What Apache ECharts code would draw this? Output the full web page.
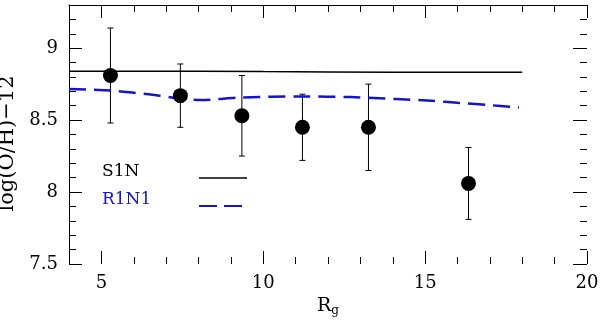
<!DOCTYPE html>
<html>
<head>
<meta charset="utf-8">
<script src="https://cdn.jsdelivr.net/npm/echarts@6/dist/echarts.min.js"></script>
<style>
  html, body { margin: 0; padding: 0; background: #fff; }
  #chart { width: 600px; height: 323px; }
</style>
</head>
<body>
<div id="chart"></div>
<script>
// observed points: radius, log(O/H)-12, error bar low / high
const obsR = [5.28, 7.44, 9.34, 11.21, 13.25, 16.34];
const obsOH = [8.81, 8.67, 8.53, 8.45, 8.45, 8.06];
const obsLow = [8.48, 8.45, 8.25, 8.22, 8.15, 7.81];
const obsHigh = [9.14, 8.89, 8.81, 8.68, 8.75, 8.31];

// model S1N (solid black)
const s1nR = [4, 6, 8, 10, 12, 14, 16, 18];
const s1nOH = [8.84, 8.84, 8.84, 8.837, 8.835, 8.833, 8.832, 8.832];

// model R1N1 (blue dashed)
const r1n1R = [4, 5.3, 6, 6.8, 7.4, 8.1, 9.3, 11.2, 12.7, 14.1, 15.2, 16.0, 16.9, 17.9];
const r1n1OH = [8.717, 8.705, 8.69, 8.67, 8.65, 8.64, 8.657, 8.664, 8.66, 8.646, 8.634, 8.62, 8.606, 8.587];

// ticks
const xMajor = [5, 10, 15, 20];
const xMinor = [4, 6, 7, 8, 9, 11, 12, 13, 14, 16, 17, 18, 19];
const yMajor = [7.5, 8, 8.5, 9];
const yMinor = [7.6, 7.7, 7.8, 7.9, 8.1, 8.2, 8.3, 8.4, 8.6, 8.7, 8.8, 8.9, 9.1, 9.2];

const FONT = 'DejaVu Serif';
const xMin = 4, xMax = 20, yMin = 7.5, yMax = 9.3;

function xAx(position, ticks, len, labels, extra) {
  return Object.assign({
    type: 'value', position: position, min: xMin, max: xMax,
    axisLine: { show: false, onZero: false },
    axisTick: { inside: true, length: len, customValues: ticks, lineStyle: { color: '#000', width: 1 } },
    axisLabel: labels ? { customValues: labels, margin: 10, fontFamily: FONT, fontSize: 18, color: '#000' } : { show: false },
    splitLine: { show: false }
  }, extra || {});
}
function yAx(position, ticks, len, labels, extra) {
  return Object.assign({
    type: 'value', position: position, min: yMin, max: yMax,
    axisLine: { show: false, onZero: false },
    axisTick: { inside: true, length: len, customValues: ticks, lineStyle: { color: '#000', width: 1 } },
    axisLabel: labels ? { customValues: labels, margin: 11, fontFamily: FONT, fontSize: 18, color: '#000' } : { show: false },
    splitLine: { show: false }
  }, extra || {});
}

const chart = echarts.init(document.getElementById('chart'));

chart.setOption({
  animation: false,
  backgroundColor: '#fff',
  grid: { left: 69, right: 13, top: 5, bottom: 59, outerBoundsMode: 'none' },
  xAxis: [
    xAx('bottom', xMajor, 13, xMajor, {
      name: '{r|R}{g|g}', nameLocation: 'middle', nameGap: 26,
      nameTextStyle: {
        rich: {
          r: { fontFamily: FONT, fontSize: 19, color: '#000' },
          g: { fontFamily: FONT, fontSize: 12, color: '#000', verticalAlign: 'bottom', padding: [8, 0, 0, 0] }
        }
      }
    }),
    xAx('bottom', xMinor, 7, null),
    xAx('top', xMajor, 13, null, { axisLine: { show: true, onZero: false, lineStyle: { color: '#000', width: 1 } } }),
    xAx('top', xMinor, 7, null)
  ],
  yAxis: [
    yAx('left', yMajor, 13, yMajor, {
      axisLine: { show: true, onZero: false, lineStyle: { color: '#000', width: 1 } },
      name: 'log(O/H)\u221212', nameLocation: 'middle', nameGap: 40, nameRotate: 90,
      nameTextStyle: { fontFamily: FONT, fontSize: 21, color: '#000', padding: [0, 18, 0, 0] }
    }),
    yAx('left', yMinor, 7, null),
    yAx('right', yMajor, 14, null),
    yAx('right', yMinor, 7, null)
  ],
  series: [
    {
      name: 'S1N', type: 'line', xAxisIndex: 0, yAxisIndex: 0,
      data: s1nR.map((r, i) => [r, s1nOH[i]]),
      showSymbol: false, symbol: 'none',
      lineStyle: { color: '#000', width: 1.5 }
    },
    {
      name: 'R1N1', type: 'line', xAxisIndex: 0, yAxisIndex: 0,
      data: r1n1R.map((r, i) => [r, r1n1OH[i]]),
      showSymbol: false, symbol: 'none', smooth: 0.3,
      lineStyle: { color: '#1414c8', width: 2.5, type: [17, 8] }
    },
    {
      name: 'errors', type: 'custom', xAxisIndex: 0, yAxisIndex: 0,
      data: obsR.map((r, i) => [r, obsLow[i], obsHigh[i]]),
      renderItem: function (params, api) {
        const lo = api.coord([api.value(0), api.value(1)]);
        const hi = api.coord([api.value(0), api.value(2)]);
        const st = { stroke: '#000', lineWidth: 1 };
        return {
          type: 'group',
          children: [
            { type: 'line', shape: { x1: lo[0], y1: lo[1], x2: hi[0], y2: hi[1] }, style: st },
            { type: 'line', shape: { x1: lo[0] - 3, y1: lo[1], x2: lo[0] + 3, y2: lo[1] }, style: st },
            { type: 'line', shape: { x1: hi[0] - 3, y1: hi[1], x2: hi[0] + 3, y2: hi[1] }, style: st }
          ]
        };
      },
      z: 3
    },
    {
      name: 'obs', type: 'scatter', xAxisIndex: 0, yAxisIndex: 0,
      data: obsR.map((r, i) => [r, obsOH[i]]),
      symbol: 'circle', symbolSize: 15,
      itemStyle: { color: '#000', opacity: 1 },
      z: 4
    }
  ],
  graphic: [
    { type: 'text', left: 102, top: 163, style: { text: 'S1N', fontFamily: FONT, fontSize: 17, fill: '#000' } },
    { type: 'line', shape: { x1: 199, y1: 178, x2: 247, y2: 178 }, style: { stroke: '#000', lineWidth: 1.5 } },
    { type: 'text', left: 102, top: 191, style: { text: 'R1N1', fontFamily: FONT, fontSize: 17, fill: '#1414c8' } },
    { type: 'line', shape: { x1: 199, y1: 206, x2: 247, y2: 206 }, style: { stroke: '#1414c8', lineWidth: 2, lineDash: [18, 7] } }
  ]
});
</script>
</body>
</html>
